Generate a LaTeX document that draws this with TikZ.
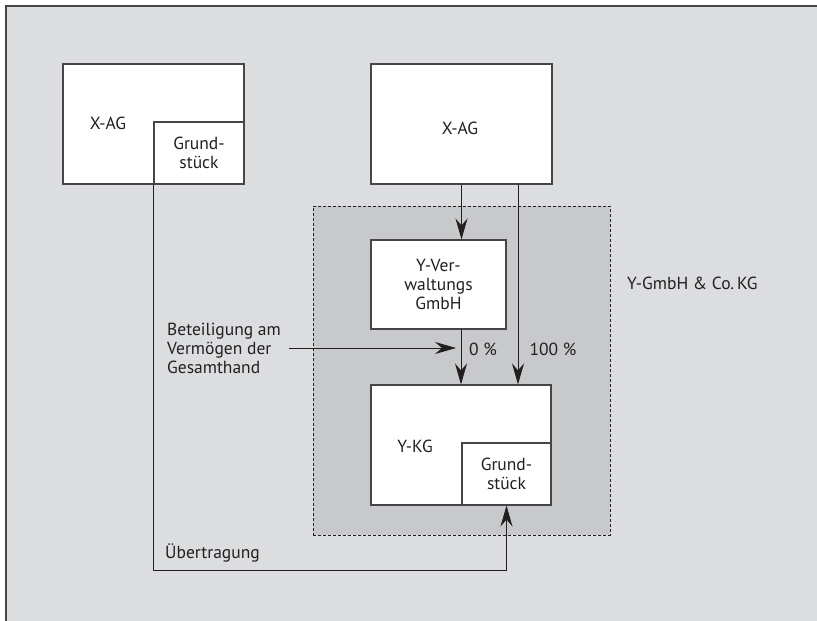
\documentclass[tikz,border=0pt]{standalone}
\usepackage{fontspec}
\setmainfont{PT Sans}
\usetikzlibrary{arrows.meta,positioning}
\definecolor{bgGray}{RGB}{220,221,223}
\definecolor{kgGray}{RGB}{200,201,203}
\definecolor{lineGray}{RGB}{70,70,72}
\definecolor{inkBlack}{RGB}{35,31,32}

\begin{document}
\begin{tikzpicture}[x=1pt, y=-1pt, font=\fontsize{17.5}{19}\selectfont, text=inkBlack,
    box/.style={draw=lineGray, line width=1.1pt, fill=white, inner sep=0pt, align=center},
    conn/.style={line width=0.9pt, draw=inkBlack},
    arr/.style={conn, -{Stealth[length=21pt, width=12pt, inset=7pt]}},
    lbl/.style={inner sep=0pt, align=center}
]
\useasboundingbox (0,0) rectangle (817,621);

% Background frame
\fill[bgGray] (6,6) rectangle (817,621);
\draw[lineGray, line width=1.6pt] (6,621) -- (6,6) -- (817,6);

% Y-GmbH & Co. KG region
\node[draw=inkBlack, line width=0.8pt, dash pattern=on 3pt off 2pt, fill=kgGray,
      minimum width=297pt, minimum height=329pt, inner sep=0pt] (kgArea) at (461.5,370.5) {};
\node[lbl, anchor=west] (kgLabel) at (627,283) {Y-GmbH \& Co.\,KG};

% Left: X-AG with Grundstueck
\node[box, minimum width=181pt, minimum height=120pt] (xagLeft) at (153.5,124) {};
\node[lbl] (xagLeftText) at (108,123) {X-AG};
\node[box, minimum width=90pt, minimum height=62pt] (grundLeft) at (199,153) {Grund-\\stück};

% Right: X-AG
\node[box, minimum width=181pt, minimum height=120pt] (xagRight) at (461.5,124) {};
\node[lbl] (xagRightText) at (460,128) {X-AG};

% Y-Verwaltungs GmbH
\node[box, minimum width=135pt, minimum height=89pt] (yVerw) at (438.5,284.5) {Y-Ver-\\waltungs\\GmbH};

% Y-KG with Grundstueck
\node[box, minimum width=180pt, minimum height=120pt] (yKG) at (461,445) {};
\node[lbl] (yKGText) at (415,446) {Y-KG};
\node[box, minimum width=89pt, minimum height=62pt] (grundRight) at (506.5,474) {Grund-\\stück};

% Holdings
\draw[arr] (xagRight.south) -- (xagRight.south |- yVerw.north);
\draw[arr] ([xshift=56.5pt]xagRight.south) -- ([xshift=56.5pt]xagRight.south |- yKG.north);
\draw[arr] (yVerw.south -| yKG.north) -- (yKG.north);
\node[lbl] (pctZero) at (483,349) {0 \%};
\node[lbl] (pctFull) at (553,349) {100 \%};

% Beteiligung am Vermoegen
\node[lbl, align=left, anchor=west] (beteil) at (167,348) {Beteiligung am\\Vermögen der\\Gesamthand};
\draw[arr] ([xshift=8pt]beteil.east) -- ([xshift=-5pt]beteil.east -| yKG.north);

% Uebertragung
\coordinate (uebLow) at (0,570);
\draw[arr] (grundLeft.south west) |- (uebLow -| grundRight.south) -- (grundRight.south);
\node[lbl, anchor=west] (uebText) at (165,553) {Übertragung};

\end{tikzpicture}
\end{document}
